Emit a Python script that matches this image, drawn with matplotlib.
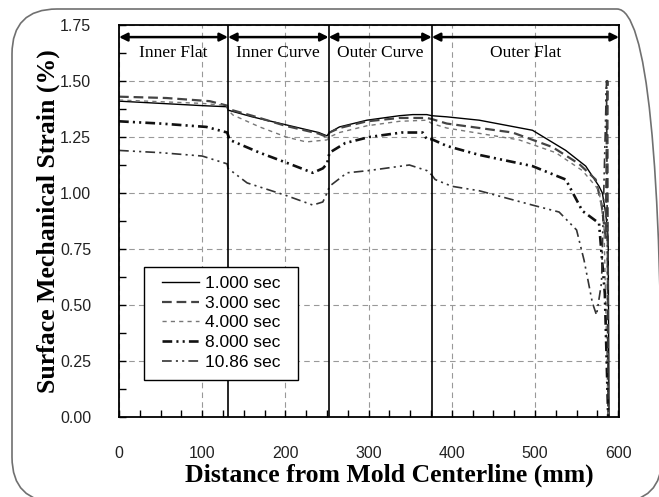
import numpy as np
import matplotlib
matplotlib.use("Agg")
import matplotlib.pyplot as plt
from matplotlib.patches import FancyBboxPatch, Rectangle
from matplotlib.ticker import MultipleLocator, FormatStrFormatter

plt.rcParams['lines.scale_dashes'] = False

# section boundaries (mm) and labels
bounds = [0, 131, 252, 376, 601]
sections = ["Inner Flat", "Inner Curve", "Outer Curve", "Outer Flat"]

# strain curves
x_1s = [0, 50, 100, 130, 131, 160, 200, 240, 250, 253, 265, 298, 337, 353, 370, 376,
        394, 433, 497, 537, 561, 577, 581, 585, 588, 589]
y_1s = [1.41, 1.40, 1.39, 1.385, 1.37, 1.34, 1.305, 1.27, 1.255, 1.27, 1.295, 1.325, 1.345,
        1.35, 1.35, 1.345, 1.34, 1.325, 1.28, 1.19, 1.12, 1.03, 1.0, 0.91, 0.80, 0.0]

x_3s = [0, 57, 109, 130, 131, 160, 200, 240, 250, 253, 265, 298, 337, 370, 376, 394, 473,
        521, 553, 573, 580, 585, 587, 588]
y_3s = [1.43, 1.424, 1.41, 1.39, 1.375, 1.345, 1.30, 1.265, 1.25, 1.27, 1.29, 1.32, 1.335,
        1.335, 1.33, 1.31, 1.27, 1.205, 1.13, 1.06, 0.95, 0.80, 1.50, 0.0]

x_4s = [0, 100, 130, 131, 137, 169, 201, 225, 250, 253, 265, 298, 337, 370, 376, 394, 481,
        525, 557, 573, 577, 583, 588]
y_4s = [1.415, 1.40, 1.39, 1.37, 1.348, 1.295, 1.25, 1.228, 1.237, 1.25, 1.27, 1.30, 1.32,
        1.325, 1.31, 1.29, 1.237, 1.18, 1.10, 1.03, 1.01, 0.85, 0.0]

x_8s = [0, 50, 105, 130, 133, 169, 205, 233, 245, 250, 253, 272, 301, 340, 365, 370, 376,
        394, 433, 497, 537, 557, 577, 584, 588]
y_8s = [1.32, 1.31, 1.295, 1.27, 1.237, 1.18, 1.13, 1.09, 1.11, 1.13, 1.18, 1.223, 1.25,
        1.27, 1.27, 1.24, 1.24, 1.21, 1.17, 1.12, 1.06, 0.92, 0.865, 0.55, 0.0]

x_10s = [0, 50, 100, 130, 131, 154, 200, 233, 245, 250, 253, 274, 300, 349, 370, 376, 380,
         400, 433, 497, 529, 550, 559, 569, 574, 580, 586, 588]
y_10s = [1.19, 1.18, 1.165, 1.13, 1.11, 1.045, 0.99, 0.946, 0.96, 1.0, 1.03, 1.09, 1.10,
         1.125, 1.10, 1.08, 1.06, 1.03, 1.01, 0.946, 0.915, 0.835, 0.70, 0.51, 0.455, 0.6,
         1.5, 0.0]

labels = ["1.000 sec", "3.000 sec", "4.000 sec", "8.000 sec", "10.86 sec"]

fig = plt.figure(figsize=(6.59, 4.97), dpi=100)
ax = fig.add_axes([0.1806, 0.161, 0.7587, 0.7887])

# rounded frame around the whole figure
frame = FancyBboxPatch((0.12, -0.05), 6.50, 4.93, boxstyle="round,pad=0,rounding_size=0.45",
                       transform=fig.dpi_scale_trans, facecolor='none', edgecolor='#707070',
                       linewidth=1.2, clip_on=False)
fig.patches.append(frame)

ax.plot(x_1s, y_1s, color='black', lw=1.0, label=labels[0])
ax.plot(x_3s, y_3s, color='#444444', lw=1.6, dashes=(7, 3.5), label=labels[1])
ax.plot(x_4s, y_4s, color='#777777', lw=1.0, dashes=(3, 3), label=labels[2])
ax.plot(x_8s, y_8s, color='#111111', lw=1.9, dashes=(7, 3, 1.5, 3, 1.5, 3), label=labels[3])
ax.plot(x_10s, y_10s, color='#333333', lw=1.2, dashes=(7, 3, 1.5, 3, 1.5, 3), label=labels[4])

for b in bounds[1:4]:
    ax.axvline(b, color='black', lw=1.2, zorder=3)

# section arrows and names
for i, name in enumerate(sections):
    ax.annotate("", xy=(bounds[i], 1.696), xytext=(bounds[i + 1], 1.696),
                arrowprops=dict(arrowstyle='<|-|>', color='black', lw=1.8,
                                mutation_scale=12, shrinkA=0, shrinkB=0))
    ax.text((bounds[i] + bounds[i + 1]) / 2, 1.625, name, ha='center', va='center',
            fontsize=12.5, family='Liberation Serif')

ax.set_xlim(0, 601)
ax.set_ylim(0, 1.75)
ax.xaxis.set_major_locator(MultipleLocator(100))
ax.xaxis.set_minor_locator(MultipleLocator(25))
ax.yaxis.set_major_locator(MultipleLocator(0.25))
ax.yaxis.set_minor_locator(MultipleLocator(0.125))
ax.yaxis.set_major_formatter(FormatStrFormatter('%.2f'))
ax.tick_params(which='both', direction='in', length=5, width=1, top=False, right=False)
ax.tick_params(axis='x', which='major', labelsize=11.5, pad=21, labelcolor='#222222')
ax.tick_params(axis='y', which='major', labelsize=11.5, pad=20, labelcolor='#222222')
for lab in ax.get_xticklabels() + ax.get_yticklabels():
    lab.set_family('Liberation Sans')

ax.grid(True, which='major', color='#999999', linestyle=(0, (4, 3)), lw=0.8)
for s in ax.spines.values():
    s.set_linewidth(1.3)

ax.set_xlabel("Distance from Mold Centerline (mm)", fontsize=18.5, fontweight='bold',
              family='Liberation Serif', labelpad=2)
ax.xaxis.label.set_x(0.54)
ax.set_ylabel("Surface Mechanical Strain (%)", fontsize=18.5, fontweight='bold',
              family='Liberation Serif', labelpad=0)

# legend box drawn separately, entries centred inside it
ax.add_patch(Rectangle((0.05, 0.094), 0.308, 0.288, transform=ax.transAxes,
                       facecolor='white', edgecolor='black', lw=1.0, zorder=4))
leg = ax.legend(loc='center', bbox_to_anchor=(0.205, 0.24), borderaxespad=0,
                frameon=False, handlelength=2.1, handletextpad=0.35, labelspacing=0.27,
                borderpad=0.2, prop={'family': 'Liberation Sans', 'size': 12.5})
leg.set_zorder(5)

fig.savefig("out.png", dpi=100)
